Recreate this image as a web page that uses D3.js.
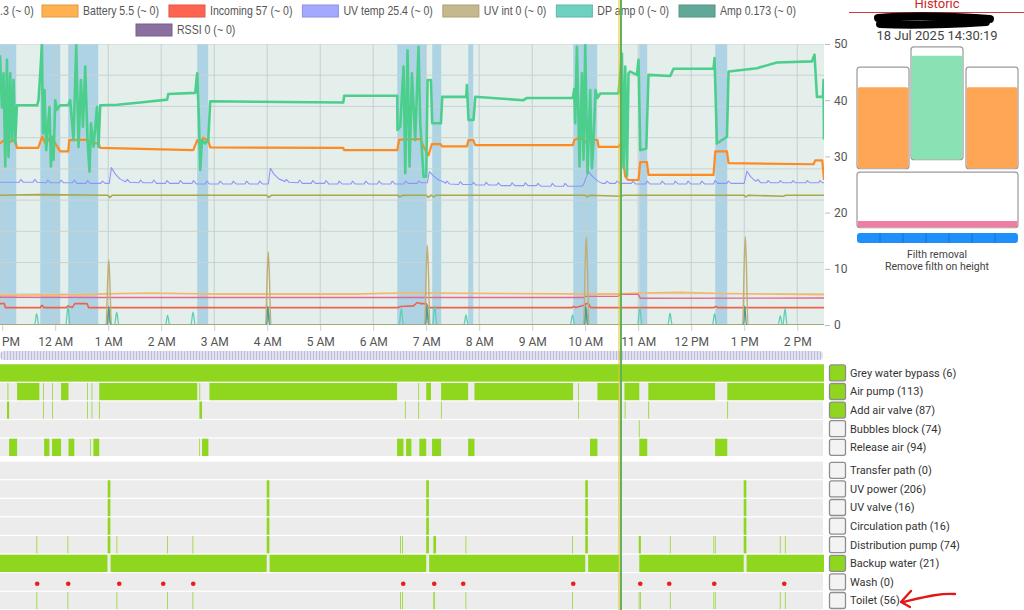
<!DOCTYPE html>
<html>
<head>
<meta charset="utf-8">
<script src="https://cdn.jsdelivr.net/npm/d3@7"></script>
<style>
body{margin:0;background:#fff;overflow:hidden}
svg{display:block;font-family:Roboto,"Liberation Sans",sans-serif}
</style>
</head>
<body>
<svg id="chart" width="1024" height="610"></svg>
<script>
// time values are hours from midnight 18 Jul 2025 (negative = 17 Jul)
var tStart = -1.042, tEnd = 14.505, cursorT = 10.665;

// legend
var legendNames = ["Battery 5.5 (~ 0)", "Incoming 57 (~ 0)", "UV temp 25.4 (~ 0)", "UV int 0 (~ 0)", "DP amp 0 (~ 0)", "Amp 0.173 (~ 0)"];
var legendColors = ["#ffb24f", "#ff6450", "#a3a9ff", "#c5b88c", "#6fd1bf", "#62a898"];
var legendRow2 = ["RSSI 0 (~ 0)"];
var legendRow2Colors = ["#8b6f9f"];

// main chart series [hour, value]
var levelPts = [[-1.042,48],[-1.006,38.7],[-0.975,44.8],[-0.943,28.2],[-0.911,47.2],[-0.881,29.9],[-0.849,44.8],[-0.817,32.9],[-0.787,43.6],[-0.755,32.3],[-0.723,39.1],
 [-0.340,39.1],[-0.315,40.0],[-0.283,44.8],[-0.251,49.8],[-0.232,34.1],[-0.202,41.8],[-0.170,31.1],[-0.138,35.3],[-0.108,38.8],[-0.081,28.2],[-0.057,33.5],[-0.032,29.4],[0,40.0],[0.032,38.3],[0.094,39.1],
 [0.245,39.1],[0.283,40.0],[0.345,32.9],[0.396,49.8],[0.440,31.7],[0.485,43.6],[0.523,35.3],[0.566,46.0],[0.609,32.9],[0.647,27.3],[0.674,35.9],[0.723,31.7],[0.787,38.8],[0.817,31.7],[0.849,39.1],
 [1.170,39.2],[1.604,39.6],[2.113,40.1],[2.132,41.1],[2.642,41.3],[2.679,44.8],[2.711,36.5],[2.736,27.6],[2.768,32.9],[2.830,32.3],[2.887,32.9],[2.925,39.8],
 [5.434,39.6],[5.453,40.8],[6.453,40.8],[6.458,34.7],[6.509,35.3],[6.572,46.0],[6.604,27.0],[6.647,48.9],[6.685,28.2],[6.730,44.8],[6.792,32.9],[6.855,49.5],[6.887,35.9],[6.949,26.4],[7.000,26.4],[7.025,43.6],[7.089,43.6],[7.113,35.9],[7.277,35.9],[7.302,40.6],
 [7.755,40.6],[7.768,42.7],[7.798,36.5],[7.892,36.5],[7.925,40.6],[8.836,40.0],[8.900,40.4],[9.768,40.4],[9.792,42.0],[9.811,35.9],[9.843,49.5],[9.892,28.2],[9.938,44.8],[9.968,29.4],[10.000,49.8],[10.043,27.0],[10.094,41.8],[10.126,27.9],[10.157,32.9],[10.194,41.8],[10.232,40.4],[10.283,41.2],[10.628,41.2],
 [10.692,48.3],[10.723,28.0],[10.755,46.0],[10.787,26.5],[10.817,44.8],[10.849,45.1],[10.975,44.5],[11.006,47.2],[11.038,31.1],[11.151,31.4],[11.194,44.5],[11.604,44.3],[11.666,45.6],[12.421,45.6],[12.440,47.5],[12.485,32.3],[12.674,33.5],[12.704,45.1],[13.240,45.7],[13.617,46.7],[14.277,46.9],[14.326,48.1],[14.372,40.6],[14.485,40.6],[14.496,43.6],[14.505,33]];

var pressurePts = [[-1.042,32.3],[-0.943,33.0],[-0.849,32.6],[-0.755,32.9],[-0.723,31.5],[-0.321,31.5],[-0.283,32.6],[-0.245,33.5],[-0.189,32.4],[-0.132,33.1],[-0.094,32.5],[-0.038,32.9],[0.094,30.9],[0.245,30.9],[0.264,32.9],[0.604,33.0],[0.623,32.3],[0.817,32.3],[0.849,31.5],
 [2.604,31.1],[2.679,32.9],[2.736,32.1],[2.792,33.3],[2.887,32.8],[2.925,31.6],[5.434,31.5],[5.453,31.1],[6.453,31.1],[6.491,33.0],[6.887,33.1],[6.962,31.5],[7.043,30.2],[7.108,32.2],[7.264,32.2],[7.302,31.8],[7.768,31.8],[7.798,32.9],[7.887,32.9],[7.925,32.0],
 [9.768,32.0],[9.792,32.9],[9.906,33.4],[10.0,32.5],[10.094,33.1],[10.232,32.9],[10.251,31.7],[10.628,31.7],[10.674,32.3],[10.755,26.4],[10.811,25.8],[11.006,25.8],[11.038,29.0],[11.164,29.0],[11.194,26.7],[12.421,26.7],[12.453,30.9],[12.674,30.9],[12.704,28.8],[14.308,28.6],[14.340,29.3],[14.472,29.3],[14.505,25.8]];

var uvTempPts = [[-1.042,25.4],[-0.68,25.4],[-0.65,25.9],[-0.6,25.4],[-0.42,25.4],[-0.39,25.9],[-0.34,25.4],[-0.17,25.3],[-0.14,25.8],[-0.09,25.3],[0.08,25.3],[0.11,25.8],[0.16,25.3],[0.33,25.3],[0.36,25.8],[0.41,25.2],[0.58,25.2],[0.61,25.7],[0.66,25.2],[0.86,25.2],[0.89,25.6],[0.94,25.2],
 [1.02,25.2],[1.06,28.0],[1.13,26.9],[1.22,26.0],[1.3,25.6],[1.33,25.5],[1.36,25.9],[1.41,25.4],[1.58,25.3],[1.61,25.8],[1.66,25.3],[1.83,25.3],[1.86,25.8],[1.91,25.2],[2.08,25.2],[2.11,25.7],[2.16,25.2],[2.33,25.2],[2.36,25.7],[2.41,25.2],[2.58,25.2],[2.61,25.7],[2.66,25.1],[2.83,25.1],[2.86,25.6],[2.91,25.1],[3.08,25.1],[3.11,25.6],[3.16,25.1],[3.33,25.1],[3.36,25.6],[3.41,25.1],[3.58,25.1],[3.61,25.6],[3.66,25.1],[3.83,25.1],[3.86,25.6],[3.91,25.1],
 [4.02,25.1],[4.06,27.9],[4.13,26.8],[4.22,26.0],[4.32,25.6],[4.33,25.5],[4.36,25.9],[4.41,25.4],[4.58,25.3],[4.61,25.8],[4.66,25.2],[4.83,25.2],[4.86,25.7],[4.91,25.2],[5.08,25.2],[5.11,25.7],[5.16,25.1],[5.33,25.1],[5.36,25.6],[5.41,25.1],[5.58,25.1],[5.61,25.6],[5.66,25.1],[5.83,25.1],[5.86,25.6],[5.91,25.1],[6.08,25.1],[6.11,25.6],[6.16,25.1],[6.33,25.1],[6.36,25.6],[6.41,25.1],[6.58,25.1],[6.61,25.6],[6.66,25.2],[6.83,25.2],[6.86,25.6],[6.91,25.3],
 [7.02,25.3],[7.06,27.3],[7.14,26.5],[7.24,25.8],[7.34,25.4],[7.36,25.2],[7.39,25.6],[7.44,25.1],[7.61,25.0],[7.64,25.5],[7.69,25.0],[7.86,25.0],[7.89,25.4],[7.94,24.9],[8.1,24.9],[8.13,25.4],[8.18,24.9],[8.33,24.9],[8.36,25.3],[8.41,24.8],[8.59,24.8],[8.62,25.3],[8.67,24.8],[8.84,24.8],[8.87,25.3],[8.92,24.8],[9.08,24.8],[9.11,25.2],[9.16,24.7],[9.35,24.7],[9.38,25.2],[9.43,24.7],[9.59,24.7],[9.62,25.2],[9.67,24.7],
 [9.9,24.7],[9.96,24.8],[10.06,27.3],[10.14,26.4],[10.24,25.6],[10.32,25.2],[10.38,25.2],[10.41,25.6],[10.46,25.2],[10.57,25.2],[10.6,25.6],[10.65,25.2],[10.87,25.2],[10.9,25.6],[10.95,25.1],[11.14,25.1],[11.17,25.6],[11.22,25.1],[11.42,25.1],[11.45,25.6],[11.5,25.1],[11.67,25.1],[11.7,25.6],[11.75,25.1],[11.91,25.1],[11.94,25.6],[11.99,25.1],[12.17,25.1],[12.2,25.6],[12.25,25.1],[12.42,25.1],[12.45,25.7],[12.5,25.2],[12.67,25.2],[12.7,25.6],[12.75,25.2],
 [13.0,25.2],[13.05,27.4],[13.12,26.4],[13.2,25.7],[13.23,25.6],[13.26,25.9],[13.31,25.3],[13.42,25.3],[13.45,25.7],[13.5,25.3],[13.65,25.3],[13.68,25.7],[13.73,25.3],[13.89,25.3],[13.92,25.7],[13.97,25.3],[14.16,25.3],[14.19,25.7],[14.24,25.3],[14.4,25.3],[14.43,25.7],[14.48,25.3],[14.505,25.3]];

var ambientPts = [[-1.042,23.1],[-0.3,23.2],[0.99,23.1],[1.03,22.7],[1.08,23.1],[3.99,23.1],[4.03,22.7],[4.08,23.1],[6.47,23.1],[6.5,22.8],[6.56,23.1],[7.0,23.1],[7.04,22.7],[7.09,23.1],[7.14,22.8],[7.19,23.1],[10.0,23.1],[10.04,22.8],[10.09,23.1],[10.68,22.9],[10.72,23.1],[12.99,23.1],[13.03,22.8],[13.08,23.1],[13.74,22.9],[13.78,23.1],[14.505,23.1]];

var uvIntPts = [[-1.042,0],[0.96,0],[0.99,8],[1.01,11.6],[1.03,8],[1.06,0],[3.97,0],[4.0,9],[4.02,13.0],[4.04,9],[4.07,0],[6.97,0],[7.0,10],[7.02,14.2],[7.04,10],[7.07,0],[9.97,0],[10.0,11],[10.02,15.7],[10.04,11],[10.07,0],[12.97,0],[13.0,11],[13.02,15.7],[13.04,11],[13.07,0],[14.505,0]];

var ampPts = [[-1.042,0.05],[0.99,0.05],[1.01,3.3],[1.04,0.05],[3.99,0.05],[4.01,3.3],[4.04,0.05],[6.99,0.05],[7.01,3.4],[7.04,0.05],[9.99,0.05],[10.01,3.4],[10.04,0.05],[12.99,0.05],[13.01,3.4],[13.04,0.05],[14.505,0.05]];

var dpAmpPts = [[-1.042,0],[-0.39,0],[-0.35,2.0],[-0.31,0],[0.2,0],[0.24,3.2],[0.28,0],[0.97,0],[1.01,3.0],[1.05,0],[1.12,0],[1.16,2.3],[1.2,0],[2.08,0],[2.12,1.7],[2.16,0],[2.56,0],[2.6,2.3],[2.64,0],[3.98,0],[4.02,3.0],[4.06,0],
 [6.49,0],[6.53,2.9],[6.57,0],[6.98,0],[7.02,3.4],[7.06,0],[7.12,0],[7.16,3.4],[7.2,0],[7.71,0],[7.75,1.8],[7.79,0],[9.72,0],[9.76,1.8],[9.8,0],[9.98,0],[10.02,3.0],[10.06,0],[10.99,0],[11.03,3.2],[11.07,0],[11.56,0],[11.6,2.1],[11.64,0],[12.4,0],[12.44,2.0],[12.48,0],[13.64,0],[13.68,1.6],[13.72,0],[13.73,0],[13.77,2.9],[13.81,0],[14.505,0]];

var batteryPts = [[-1.042,5.3],[0.5,5.4],[1.2,5.6],[1.8,5.7],[2.4,5.6],[3.2,5.5],[5.6,5.5],[6.4,5.7],[7.2,5.7],[8.6,5.6],[10.5,5.5],[11.1,5.7],[11.8,5.8],[12.6,5.6],[14.505,5.4]];
var supplyPts = [[-1.042,4.95],[0.9,4.9],[9.98,4.9],[10.0,5.1],[10.62,5.1],[10.65,5.45],[11.0,5.45],[11.04,4.75],[14.505,4.8]];
var incomingPts = [[-1.042,3.8],[-0.96,3.8],[-0.94,3.1],[-0.28,3.1],[-0.25,3.5],[-0.21,3.1],[0.21,3.1],[0.24,3.4],[0.32,3.1],[0.37,3.8],[0.6,3.8],[0.63,3.1],[6.47,3.1],[6.52,3.3],[6.76,3.4],[6.83,4.0],[6.9,3.8],[7.0,3.8],[7.04,3.1],[9.75,3.1],[9.78,3.3],[9.82,3.1],[9.98,3.5],[10.02,3.8],[10.06,3.8],[10.1,3.1],[12.43,3.1],[12.46,3.3],[12.5,3.1],[14.505,3.1]];

// air pump off periods, shaded blue
var shadeBands = [[-1.042,-0.736],[-0.283,0.094],[0.245,0.811],[2.679,2.887],[6.453,7.0],[7.113,7.283],[7.792,7.887],[9.774,10.226],[11.019,11.17],[12.453,12.679]];

// state rows
var rowNames = ["Grey water bypass (6)", "Air pump (113)", "Add air valve (87)", "Bubbles block (74)", "Release air (94)",
  "Transfer path (0)", "UV power (206)", "UV valve (16)", "Circulation path (16)", "Distribution pump (74)", "Backup water (21)", "Wash (0)", "Toilet (56)"];
var rowChecked = [true, true, true, false, false, false, false, false, false, false, true, false, false];
var greyBypassOn = [[-1.042,14.505]];
var airPumpOn = [[-0.900,-0.885],[-0.72,-0.30],[-0.226,-0.212],[-0.060,-0.046],[0.11,0.25],[0.600,0.614],[0.686,0.700],[0.83,2.68],[2.720,2.735],[2.91,6.45],[6.850,6.865],[7.00,7.09],[7.28,7.79],[7.91,9.77],[9.868,9.882],[10.23,10.64],[10.74,11.02],[11.19,12.45],[12.68,14.505]];
var addAirValveOn = [[-0.91,-0.87],[-0.228,-0.214],[-0.060,-0.046],[0.600,0.614],[0.686,0.700],[0.825,0.840],[2.72,2.77],[6.598,6.612],[6.850,6.865],[7.278,7.292],[9.868,9.882],[10.745,10.76],[11.19,11.205],[12.68,12.695]];
var bubblesBlockOn = [[10.655,10.69],[11.012,11.026]];
var releaseAirOn = [[-0.87,-0.72],[-0.21,-0.11],[-0.06,0.11],[0.25,0.36],[0.655,0.668],[0.72,0.83],[2.715,2.728],[2.77,2.89],[6.45,6.57],[6.62,6.72],[6.87,7.00],[7.11,7.28],[7.79,7.91],[10.09,10.23],[11.02,11.17],[12.45,12.68]];
var transferPathOn = [];
var uvPowerOn = [[0.99,1.04],[3.99,4.04],[7.0,7.05],[10.0,10.05],[12.99,13.04]];
var uvValveOn = [[0.99,1.04],[3.99,4.04],[7.0,7.05],[10.0,10.05],[12.99,13.04]];
var circulationOn = [[0.99,1.04],[3.99,4.04],[7.0,7.05],[10.0,10.05],[12.99,13.04]];
var distributionOn = [[-0.355,-0.34],[0.232,0.246],[0.99,1.04],[1.157,1.171],[2.112,2.126],[2.591,2.605],[3.99,4.04],[6.505,6.52],[6.545,6.56],[7.0,7.05],[7.135,7.185],[7.742,7.756],[9.754,9.768],[10.0,10.05],[11.01,11.05],[11.597,11.611],[12.42,12.433],[12.447,12.46],[12.99,13.04],[13.672,13.686],[13.767,13.781]];
var backupWaterOn = [[-1.042,0.985],[1.045,3.99],[4.045,7.0],[7.055,10.0],[10.055,10.64],[11.02,12.99],[13.045,14.505]];
var washOn = [];
var toiletOn = [[-0.355,-0.34],[0.232,0.246],[1.157,1.171],[2.112,2.126],[2.591,2.605],[6.505,6.52],[6.545,6.56],[7.135,7.16],[7.742,7.756],[9.754,9.768],[11.01,11.024],[11.036,11.05],[11.597,11.611],[12.42,12.433],[12.447,12.46],[13.672,13.686],[13.767,13.781]];
var toiletDots = [-0.34,0.245,1.208,2.038,2.604,6.566,7.151,7.698,9.774,11.038,11.585,12.434,13.755];

// right hand panel
var tankLevels = [42.3, 47.9, 42.3];
var sumpLevel = 18.5;
var filthSegments = 7;

var base = new Date(2025, 6, 18).getTime();
function toDate(h){ return new Date(base + h * 3600000); }

var svg = d3.select("#chart");
var W = 824, pTop = 44, pBottom = 325;

var x = d3.scaleTime().domain([toDate(tStart), toDate(tEnd)]).range([0, W]);
var y = d3.scaleLinear().domain([0, 50]).range([pBottom, pTop]);
var gridY = d3.scaleLinear().domain([0, 9]).range([pBottom, pTop]);

var defs = svg.append("defs");
defs.append("clipPath").attr("id", "plotClip")
  .append("rect").attr("x", 0).attr("y", pTop).attr("width", W).attr("height", pBottom - pTop);
var pat = defs.append("pattern").attr("id", "stripes").attr("patternUnits", "userSpaceOnUse")
  .attr("width", 3).attr("height", 10);
pat.append("rect").attr("width", 3).attr("height", 10).attr("fill", "#e0e0f1");
pat.append("rect").attr("x", 1).attr("width", 1).attr("height", 10).attr("fill", "#bdbddc");

// plot background
svg.append("rect").attr("x", 0).attr("y", pTop).attr("width", W).attr("height", pBottom - pTop).attr("fill", "#e4efec");

var plot = svg.append("g").attr("clip-path", "url(#plotClip)");

plot.selectAll(".band").data(shadeBands).enter().append("rect")
  .attr("x", function(d){ return x(toDate(d[0])); })
  .attr("y", pTop)
  .attr("width", function(d){ return x(toDate(d[1])) - x(toDate(d[0])); })
  .attr("height", pBottom - pTop)
  .attr("fill", "#aed3e5");

// grid
plot.selectAll(".hg").data(gridY.ticks(9)).enter().append("line")
  .attr("x1", 0).attr("x2", W)
  .attr("y1", function(d){ return gridY(d); }).attr("y2", function(d){ return gridY(d); })
  .attr("stroke", "#c9d3d1").attr("stroke-width", 1);
var hours = x.ticks(d3.timeHour.every(1));
plot.selectAll(".vg").data(hours).enter().append("line")
  .attr("x1", function(d){ return x(d); }).attr("x2", function(d){ return x(d); })
  .attr("y1", pTop).attr("y2", pBottom)
  .attr("stroke", "#c6cfcd").attr("stroke-width", 1);

var line = d3.line().x(function(d){ return x(toDate(d[0])); }).y(function(d){ return y(d[1]); });
var smooth = d3.line().curve(d3.curveMonotoneX).x(function(d){ return x(toDate(d[0])); }).y(function(d){ return y(d[1]); });

function drawLine(data, gen, color, width){
  plot.append("path").datum(data).attr("d", gen)
    .attr("fill", "none").attr("stroke", color).attr("stroke-width", width)
    .attr("stroke-linejoin", "round");
}
drawLine(batteryPts, line, "#f9b563", 1.6);
drawLine(supplyPts, line, "#e8658f", 1.4);
drawLine(incomingPts, line, "#f0604c", 1.6);
drawLine(dpAmpPts, smooth, "#5fcdb6", 1.3);
drawLine(ampPts, smooth, "#56998a", 1.3);
drawLine(uvIntPts, smooth, "#bfae78", 1.4);
drawLine(ambientPts, line, "#a9a94c", 1.6);
drawLine(uvTempPts, line, "#8e95fb", 1.1);
drawLine(pressurePts, line, "#fd8a22", 2.2);
drawLine(levelPts, line, "#4ccf8d", 2.6);

// x axis
var xAxis = svg.append("g").attr("transform", "translate(0," + pBottom + ")")
  .call(d3.axisBottom(x).ticks(d3.timeHour.every(1)).tickFormat(d3.timeFormat("%-I %p")).tickSize(6).tickPadding(6));
xAxis.select(".domain").remove();
xAxis.selectAll("line").attr("stroke", "#cfcfcf");
xAxis.selectAll("text").attr("fill", "#555").style("font-size", "12px").style("font-family", "Roboto, sans-serif");

// y axis on the right
var yAxis = svg.append("g").attr("transform", "translate(" + (W + 1) + ",0)")
  .call(d3.axisRight(y).tickValues([0, 10, 20, 30, 40, 50]).tickSize(5).tickPadding(4));
yAxis.select(".domain").remove();
yAxis.selectAll("line").attr("stroke", "#bbb");
yAxis.selectAll("text").attr("fill", "#555").style("font-size", "12px").style("font-family", "Roboto, sans-serif");

// navigator strip
svg.append("rect").attr("x", 0).attr("y", 351).attr("width", W - 1).attr("height", 9).attr("rx", 4)
  .attr("fill", "url(#stripes)");

// legend (condensed text)
var squeeze = 0.88;
var leg = svg.append("g").style("font-family", '"Liberation Sans", Arial, sans-serif').style("font-size", "12px");
function legText(tx, ty, s){
  var t = leg.append("text").attr("transform", "translate(" + tx + "," + ty + ") scale(" + squeeze + ",1)")
    .attr("dy", "0.35em").attr("fill", "#555").text(s);
  return t.node().getComputedTextLength() * squeeze;
}
legText(0, 11, ".3 (~ 0)");
var lx = 42;
legendNames.forEach(function(n, i){
  leg.append("rect").attr("x", lx).attr("y", 5).attr("width", 36).attr("height", 12)
    .attr("fill", legendColors[i]).attr("stroke", d3.color(legendColors[i]).darker(0.4)).attr("stroke-width", 1);
  lx = lx + 41 + legText(lx + 41, 11, n) + 10;
});
legendRow2.forEach(function(n, i){
  leg.append("rect").attr("x", 136).attr("y", 24).attr("width", 36).attr("height", 12)
    .attr("fill", legendRow2Colors[i]).attr("stroke", d3.color(legendRow2Colors[i]).darker(0.4));
  legText(177, 30, n);
});

// state rows
var rowData = [greyBypassOn, airPumpOn, addAirValveOn, bubblesBlockOn, releaseAirOn, transferPathOn, uvPowerOn, uvValveOn, circulationOn, distributionOn, backupWaterOn, washOn, toiletOn];
function rowTop(i){ return 364.3 + i * 18.6 + (i >= 5 ? 4.4 : 0); }
var rowH = 17.3;
var rows = svg.append("g");
rowNames.forEach(function(name, i){
  var g = rows.append("g").attr("transform", "translate(0," + rowTop(i) + ")");
  g.append("rect").attr("width", W - 1).attr("height", rowH).attr("fill", "#ececec");
  g.selectAll(".on").data(rowData[i]).enter().append("rect")
    .attr("x", function(d){ return x(toDate(d[0])); })
    .attr("width", function(d){ return Math.max(0.6, x(toDate(d[1])) - x(toDate(d[0]))); })
    .attr("height", rowH)
    .attr("fill", "#8fd61f");
  g.append("rect").attr("x", 829.5).attr("y", 0.6).attr("width", 16).attr("height", 16).attr("rx", 2)
    .attr("fill", rowChecked[i] ? "#8fd61f" : "#f3f3f3").attr("stroke", "#8e8e8e").attr("stroke-width", 1.3);
  g.append("text").attr("x", 850).attr("y", rowH / 2).attr("dy", "0.35em")
    .attr("fill", "#333").style("font-size", "11px").text(name);
});
// toilet event markers in the wash row
svg.selectAll(".dot").data(toiletDots).enter().append("circle")
  .attr("cx", function(d){ return x(toDate(d)); })
  .attr("cy", rowTop(11) + 10.5)
  .attr("r", 2.3).attr("fill", "#ec1c1c");

// hand drawn arrow
svg.append("path").attr("d", "M955,594 C940,593 925,597 903,602")
  .attr("fill", "none").attr("stroke", "#e01818").attr("stroke-width", 2.4).attr("stroke-linecap", "round");
svg.append("path").attr("d", "M911,591 L901,602 L910,607")
  .attr("fill", "none").attr("stroke", "#e01818").attr("stroke-width", 2.4).attr("stroke-linecap", "round").attr("stroke-linejoin", "round");

// cursor
var cx = x(toDate(cursorT));
svg.append("line").attr("x1", cx - 1.5).attr("x2", cx - 1.5).attr("y1", 0).attr("y2", 610).attr("stroke", "#e9c227").attr("stroke-width", 1);
svg.append("line").attr("x1", cx + 0.5).attr("x2", cx + 0.5).attr("y1", 0).attr("y2", 610).attr("stroke", "#5fb358").attr("stroke-width", 2);

// right panel
var panel = svg.append("g");
panel.append("text").attr("x", 937).attr("y", 8).attr("text-anchor", "middle").attr("fill", "#c62828")
  .style("font-size", "13px").text("Historic");
panel.append("line").attr("x1", 849).attr("x2", 1024).attr("y1", 12.5).attr("y2", 12.5).attr("stroke", "#c9403f").attr("stroke-width", 1);
panel.append("path").attr("d", "M878,18 C910,15 950,16 990,19 M880,24 C920,26 955,24 986,22")
  .attr("fill", "none").attr("stroke", "#000").attr("stroke-width", 8).attr("stroke-linecap", "round");
panel.append("text").attr("x", 937).attr("y", 35).attr("dy", "0.35em").attr("text-anchor", "middle").attr("fill", "#444")
  .style("font-size", "13px").text("18 Jul 2025 14:30:19");

var tankX = [857, 911, 966], tankW = 52;
var tankFrameTop = [45.9, 49.5, 45.9], tankFrameBottom = [27.8, 29.4, 27.8];
var tankColors = ["#fea556", "#89e2b3", "#fea556"];
tankLevels.forEach(function(v, i){
  panel.append("rect").attr("x", tankX[i]).attr("y", y(tankFrameTop[i])).attr("width", tankW)
    .attr("height", y(tankFrameBottom[i]) - y(tankFrameTop[i])).attr("rx", 3)
    .attr("fill", "#fff").attr("stroke", "#9a9a9a").attr("stroke-width", 1.2);
  panel.append("rect").attr("x", tankX[i] + 0.6).attr("y", y(v)).attr("width", tankW - 1.2)
    .attr("height", y(tankFrameBottom[i]) - y(v) - 0.6).attr("rx", 2).attr("fill", tankColors[i]);
});
panel.append("rect").attr("x", 857).attr("y", y(27.2)).attr("width", 161).attr("height", y(17.3) - y(27.2)).attr("rx", 3)
  .attr("fill", "#fff").attr("stroke", "#9a9a9a").attr("stroke-width", 1.2);
panel.append("rect").attr("x", 857.6).attr("y", y(sumpLevel)).attr("width", 159.8).attr("height", y(17.3) - y(sumpLevel) - 0.6)
  .attr("fill", "#f17ca1");
panel.append("rect").attr("x", 857).attr("y", 233).attr("width", 161).attr("height", 10).attr("rx", 3).attr("fill", "#1f8ffc");
panel.selectAll(".seg").data(d3.range(1, filthSegments)).enter().append("line")
  .attr("x1", function(d){ return 857 + d * 161 / filthSegments; })
  .attr("x2", function(d){ return 857 + d * 161 / filthSegments; })
  .attr("y1", 233).attr("y2", 243).attr("stroke", "#1668c0").attr("stroke-width", 0.8);
panel.append("text").attr("x", 937).attr("y", 254).attr("dy", "0.35em").attr("text-anchor", "middle").attr("fill", "#444")
  .style("font-size", "10.5px").text("Filth removal");
panel.append("text").attr("x", 937).attr("y", 266).attr("dy", "0.35em").attr("text-anchor", "middle").attr("fill", "#444")
  .style("font-size", "10.5px").text("Remove filth on height");
</script>
</body>
</html>
